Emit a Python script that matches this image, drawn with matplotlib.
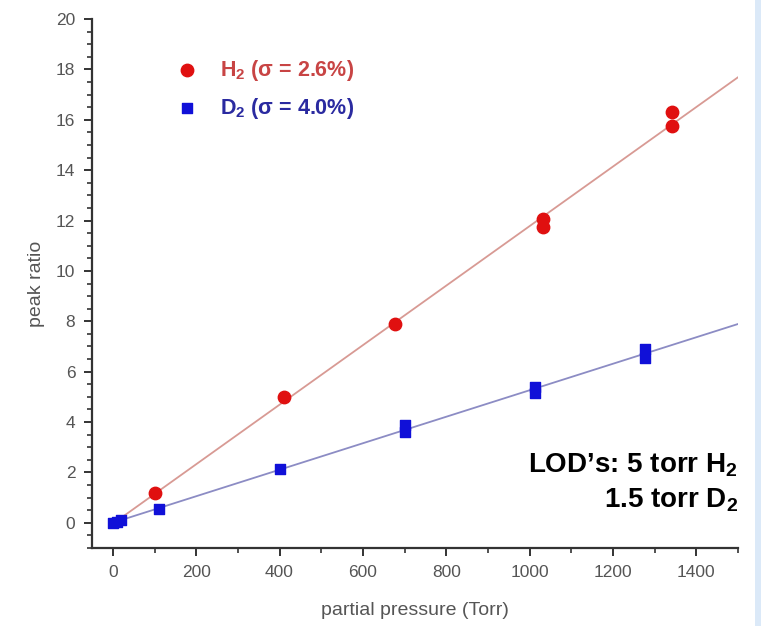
import numpy as np
import matplotlib.pyplot as plt
from matplotlib.ticker import MultipleLocator
from matplotlib.patches import Rectangle

# H2 peak ratio vs partial pressure
h2_pressure = [100, 410, 678, 1033, 1033, 1342, 1342]
h2_ratio = [1.2, 4.98, 7.88, 12.05, 11.75, 16.3, 15.75]

# D2 peak ratio vs partial pressure
d2_pressure = [0, 10, 20, 110, 400, 700, 700, 1012, 1012, 1278, 1278]
d2_ratio = [-0.02, 0.05, 0.1, 0.55, 2.15, 3.6, 3.9, 5.15, 5.4, 6.55, 6.9]

h2_label = r'H$_\mathbf{2}$ (σ = 2.6%)'
d2_label = r'D$_\mathbf{2}$ (σ = 4.0%)'

plt.rcParams['font.family'] = ['Liberation Sans', 'DejaVu Sans']
plt.rcParams['mathtext.fontset'] = 'custom'
plt.rcParams['mathtext.rm'] = 'Liberation Sans'
plt.rcParams['mathtext.bf'] = 'Liberation Sans:bold'

fig = plt.figure(figsize=(7.61, 6.26), dpi=100)
# light blue slide strip at the right edge
fig.patches.append(Rectangle((0.992, 0), 0.008, 1, transform=fig.transFigure,
                             facecolor='#dbe9f8', edgecolor='none', zorder=0))
ax = fig.add_axes([0.1209, 0.1246, 0.8489, 0.845])

# linear fits
xfit = np.array([0, 1500])
h2_fit = np.polyfit(h2_pressure, h2_ratio, 1)
d2_fit = np.polyfit(d2_pressure, d2_ratio, 1)
ax.plot(xfit, np.polyval(h2_fit, xfit), color='#d89a94', lw=1.3, zorder=1)
ax.plot(xfit, np.polyval(d2_fit, xfit), color='#8c8cc4', lw=1.3, zorder=1)

ax.scatter(h2_pressure, h2_ratio, marker='o', s=80, color='#e01010', zorder=3)
ax.scatter(d2_pressure, d2_ratio, marker='s', s=52, color='#1010d8', zorder=3)

ax.set_xlim(-50, 1500)
ax.set_ylim(-1, 20)
ax.xaxis.set_major_locator(MultipleLocator(200))
ax.xaxis.set_minor_locator(MultipleLocator(100))
ax.yaxis.set_major_locator(MultipleLocator(2))
ax.yaxis.set_minor_locator(MultipleLocator(0.5))

for side in ['top', 'right']:
    ax.spines[side].set_visible(False)
for side in ['left', 'bottom']:
    ax.spines[side].set_color('#333333')
    ax.spines[side].set_linewidth(1.6)
ax.tick_params(which='major', length=6, width=1.4, color='#333333',
               labelsize=12.5, labelcolor='#555555', pad=6)
ax.tick_params(which='minor', length=3.5, width=1.2, color='#333333')

ax.set_xlabel('partial pressure (Torr)', fontsize=14, color='#555555', labelpad=16)
ax.set_ylabel('peak ratio', fontsize=14, color='#555555', labelpad=8)

# legend drawn as markers + text
ax.scatter([178], [17.97], marker='o', s=80, color='#e01010', clip_on=False)
ax.scatter([178], [16.46], marker='s', s=52, color='#1010d8', clip_on=False)
ax.text(258, 17.97, h2_label, fontsize=15.5, color='#c84444', fontweight='bold',
        va='center', ha='left')
ax.text(258, 16.46, d2_label, fontsize=15.5, color='#2a2aa0', fontweight='bold',
        va='center', ha='left')

ax.text(1500, 2.3, r'LOD’s: 5 torr H$_\mathbf{2}$', fontsize=20, fontweight='bold',
        ha='right', va='center', color='black')
ax.text(1500, 0.9, r'1.5 torr D$_\mathbf{2}$', fontsize=20, fontweight='bold',
        ha='right', va='center', color='black')

fig.savefig('out.png', dpi=100)
